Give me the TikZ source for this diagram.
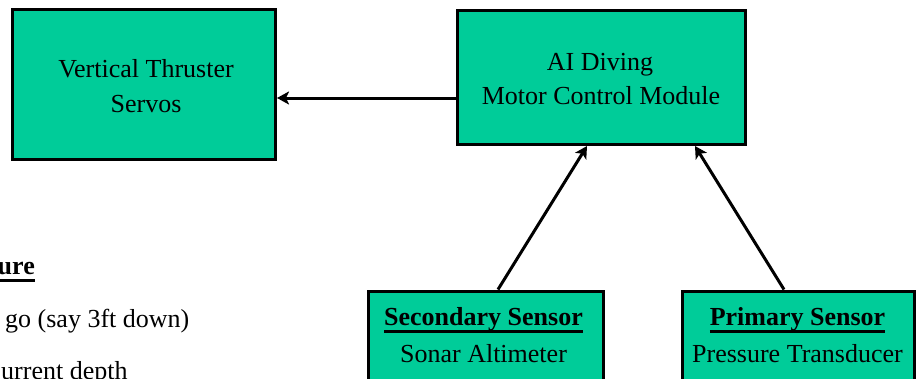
\documentclass[tikz,border=0pt]{standalone}
\usepackage{fontspec}
\setmainfont{Liberation Serif}
\usetikzlibrary{arrows.meta}
\definecolor{boxgreen}{RGB}{0,204,153}
% bold heading with a heavy underline
\newcommand\ulhead[1]{\setbox0\hbox{\bfseries #1}\rlap{\rule[-8pt]{\wd0}{3.2pt}}\box0}
\tikzset{
  block/.style={draw=black, line width=3pt, fill=boxgreen, inner sep=0pt},
  label/.style={inner sep=0pt, anchor=base, font=\fontsize{26}{36}\selectfont},
  arrow/.style={line width=3pt, -{Stealth[length=12pt,width=13pt,inset=3pt]}}
}
\begin{document}
\begin{tikzpicture}[x=1pt,y=-1pt]
\useasboundingbox (0,0) rectangle (916,378);
\clip (0,0) rectangle (916,378);
\fill[white] (0,0) rectangle (916,378);

% blocks
\node[block, minimum width=263pt, minimum height=150pt] (thr) at (144,84.5) {};
\node[block, minimum width=288pt, minimum height=134pt] (ai) at (601.5,77.5) {};
\node[block, anchor=north west, minimum width=235pt, minimum height=120pt] (sec) at (366.5,289.5) {};
\node[block, anchor=north west, minimum width=232pt, minimum height=120pt] (pri) at (680.5,289.5) {};

% block texts
\node[label] (thr1) at (146,77) {Vertical Thruster};
\node[label] (thr2) at (146,112) {Servos};
\node[label] (ai1) at (600,70) {AI Diving};
\node[label] (ai2) at (601,104.5) {Motor Control Module};
\node[label] (sec1) at (483.5,325) {\ulhead{Secondary Sensor}};
\node[label] (sec2) at (483.5,362) {Sonar Altimeter};
\node[label] (pri1) at (797.5,325) {\ulhead{Primary Sensor}};
\node[label] (pri2) at (797.5,362) {Pressure Transducer};

% notes along the left edge
\node[label, anchor=base east] (n1) at (35,274) {\ulhead{ure}};
\node[label, anchor=base west] (n2) at (5,327) {go (say 3ft down)};
\node[label, anchor=base west] (n3) at (1,379) {urrent depth};

% connectors
\draw[arrow] ([yshift=-20.5pt]ai.west) -- ([yshift=-20.5pt]ai.west -| thr.east);
\draw[arrow] ([xshift=131.5pt]sec.north west) -- ([xshift=-14.5pt]ai.south);
\draw[arrow] ([xshift=103.5pt]pri.north west) -- ([xshift=93.5pt]ai.south);
\end{tikzpicture}
\end{document}
